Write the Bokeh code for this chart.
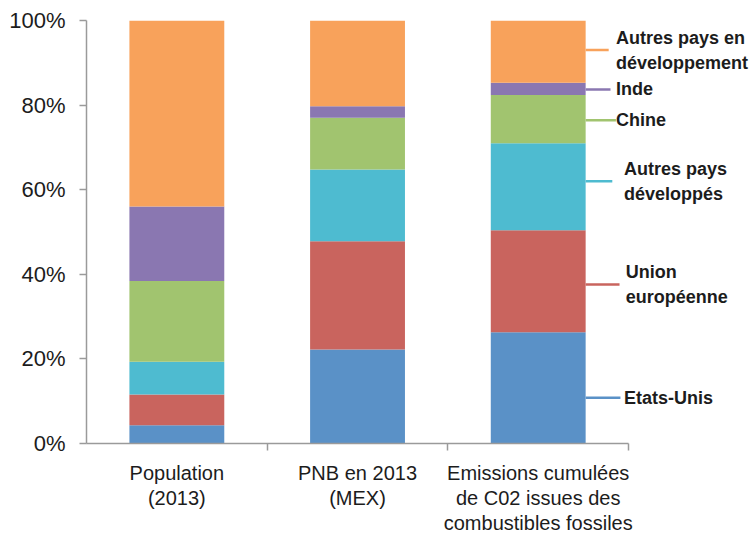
from bokeh.plotting import figure
from bokeh.models import ColumnDataSource, Range1d, LinearAxis, FixedTicker
from bokeh.core.properties import value
from bokeh.embed import file_html
from bokeh.resources import INLINE

# ---- data (percent shares) ----
categories = ["Population\n(2013)", "PNB en 2013\n(MEX)",
              "Emissions cumulées\nde C02 issues des\ncombustibles fossiles"]
series_names = ["Etats-Unis", "Union européenne", "Autres pays développés",
                "Chine", "Inde", "Autres pays en développement"]
etats_unis = [4.3, 22.2, 26.3]
union_europeenne = [7.3, 25.6, 24.1]
autres_developpes = [7.7, 17.0, 20.6]
chine = [19.1, 12.2, 11.4]
inde = [17.6, 2.7, 2.9]
autres_developpement = [44.0, 20.3, 14.7]
y_ticks = [0, 20, 40, 60, 80, 100]
y_tick_labels = ["0%", "20%", "40%", "60%", "80%", "100%"]

legend_labels = ["Etats-Unis", "Union\neuropéenne", "Autres pays\ndéveloppés",
                 "Chine", "Inde", "Autres pays en\ndéveloppement"]

# ---- styles / layout ----
colors = ["#5A91C7", "#C9645E", "#4EBBD0", "#A1C46F", "#8A77B1", "#F8A25B"]
legend_y = [10.8, 37.6, 62.0, 76.4, 83.7, 93.0]
legend_line_end = [2.955, 2.95, 2.91, 2.93, 2.90, 2.89]
legend_text_x = [2.975, 2.985, 2.975, 2.93, 2.93, 2.93]
bar_width = 0.525
FONT = "'Liberation Sans', Arial, sans-serif"

series = [etats_unis, union_europeenne, autres_developpes, chine, inde, autres_developpement]
xs = [i + 0.5 for i in range(len(categories))]

p = figure(width=754, height=536, output_backend="svg", toolbar_location=None,
           x_range=Range1d(0, 3.697), y_range=Range1d(0, 100),
           min_border_left=86, min_border_top=20, min_border_bottom=93,
           min_border_right=0, x_axis_type=None, y_axis_type=None)
p.outline_line_color = None
p.xgrid.visible = False
p.ygrid.visible = False
p.background_fill_color = "white"
p.border_fill_color = "white"

bottom = [0.0] * len(categories)
for vals, col in zip(series, colors):
    top = [b + v for b, v in zip(bottom, vals)]
    src = ColumnDataSource(dict(x=xs, bottom=bottom, top=top))
    p.vbar(x="x", bottom="bottom", top="top", width=bar_width, source=src,
           fill_color=col, line_color=None)
    bottom = top

# legend connectors and labels next to the last bar
last_edge = xs[-1] + bar_width / 2
p.segment(x0=[last_edge] * 6, y0=legend_y, x1=legend_line_end, y1=legend_y,
          line_color=colors, line_width=2.5)
p.text(x=legend_text_x, y=legend_y, text=legend_labels, text_font=value(FONT),
       text_font_style="bold", text_font_size="18px", text_color="#1c1c1c",
       text_baseline="middle", text_align="left", text_line_height=1.25)

# y axis
yaxis = LinearAxis(ticker=FixedTicker(ticks=y_ticks),
                   major_label_overrides={t: l for t, l in zip(y_ticks, y_tick_labels)})
yaxis.axis_line_color = "#9a9a9a"
yaxis.axis_line_width = 1.5
yaxis.major_tick_line_color = "#9a9a9a"
yaxis.major_tick_line_width = 1.5
yaxis.major_tick_out = 7
yaxis.major_tick_in = 0
yaxis.minor_tick_line_color = None
yaxis.major_label_standoff = 14
yaxis.major_label_text_font = FONT
yaxis.major_label_text_font_size = "22px"
yaxis.major_label_text_color = "#1c1c1c"
p.add_layout(yaxis, "left")

# x axis: labels centred on bars, ticks at category boundaries
xaxis = LinearAxis(ticker=FixedTicker(ticks=xs, minor_ticks=[1, 2, 3]),
                   major_label_overrides={x: c for x, c in zip(xs, categories)},
                   bounds=(0, 3))
xaxis.axis_line_color = "#9a9a9a"
xaxis.axis_line_width = 1.5
xaxis.major_tick_line_color = None
xaxis.major_tick_out = 0
xaxis.major_tick_in = 0
xaxis.minor_tick_line_color = "#9a9a9a"
xaxis.minor_tick_line_width = 1.5
xaxis.minor_tick_out = 7
xaxis.minor_tick_in = 0
xaxis.major_label_standoff = 11
xaxis.major_label_text_font = FONT
xaxis.major_label_text_font_size = "20px"
xaxis.major_label_text_color = "#1c1c1c"
xaxis.major_label_text_line_height = 1.14
p.add_layout(xaxis, "below")

open("out.html", "w").write(file_html(p, INLINE))
